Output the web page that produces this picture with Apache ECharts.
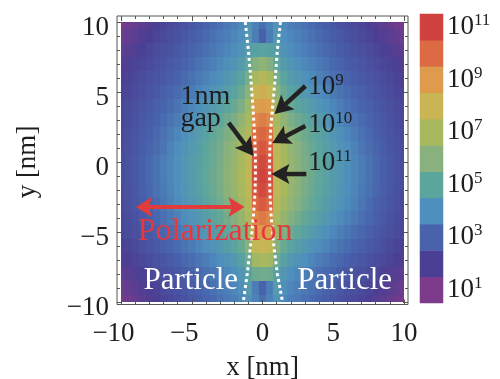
<!DOCTYPE html>
<html><head><meta charset="utf-8">
<script src="https://cdn.jsdelivr.net/npm/echarts@6/dist/echarts.min.js"></script>
<style>html,body{margin:0;padding:0;background:#fff}#c{width:500px;height:379px}</style>
</head><body><div id="c"></div>
<script>
// ---- data (log10 of field enhancement) ----
const xCenters = [-10,-9.5,-9,-8.5,-8,-7.5,-7,-6.5,-6,-5.5,-5,-4.5,-4,-3.5,-3,-2.5,-2,-1.5,-1,-0.5,0,0.5,1,1.5,2,2.5,3,3.5,4,4.5,5,5.5,6,6.5,7,7.5,8,8.5,9,9.5,10];
const yCenters = [10,9,8,7,6,5,4,3,2,1,0,-1,-2,-3,-4,-5,-6,-7,-8,-9,-10];
const logField = [
[1.1,1.3,1.5,1.68,1.85,2.0,2.15,2.28,2.4,2.55,2.7,2.85,3.0,3.18,3.35,3.5,3.65,3.85,4.2,3.7,3.3,3.7,4.2,3.85,3.65,3.5,3.35,3.18,3.0,2.85,2.7,2.55,2.4,2.28,2.15,2.0,1.85,1.68,1.5,1.3,1.1],
[1.35,1.53,1.7,1.85,2.0,2.15,2.3,2.43,2.55,2.7,2.85,3.0,3.15,3.33,3.5,3.65,3.8,4.0,4.4,3.6,2.9,3.6,4.4,4.0,3.8,3.65,3.5,3.33,3.15,3.0,2.85,2.7,2.55,2.43,2.3,2.15,2.0,1.85,1.7,1.53,1.35],
[1.6,1.75,1.9,2.05,2.2,2.33,2.45,2.58,2.7,2.85,3.0,3.15,3.3,3.48,3.65,3.8,3.95,4.2,4.6,4.8,4.9,4.8,4.6,4.2,3.95,3.8,3.65,3.48,3.3,3.15,3.0,2.85,2.7,2.58,2.45,2.33,2.2,2.05,1.9,1.75,1.6],
[1.8,1.95,2.1,2.23,2.35,2.48,2.6,2.73,2.85,3.0,3.15,3.33,3.5,3.68,3.85,4.05,4.25,4.55,5.1,5.9,6.3,5.9,5.1,4.55,4.25,4.05,3.85,3.68,3.5,3.33,3.15,3.0,2.85,2.73,2.6,2.48,2.35,2.23,2.1,1.95,1.8],
[1.95,2.1,2.25,2.38,2.5,2.63,2.75,2.88,3.0,3.18,3.35,3.53,3.7,3.9,4.1,4.33,4.55,4.9,5.6,7.0,7.4,7.0,5.6,4.9,4.55,4.33,4.1,3.9,3.7,3.53,3.35,3.18,3.0,2.88,2.75,2.63,2.5,2.38,2.25,2.1,1.95],
[2.1,2.23,2.35,2.48,2.6,2.75,2.9,3.05,3.2,3.38,3.55,3.75,3.95,4.18,4.4,4.65,4.9,5.3,6.1,7.9,8.3,7.9,6.1,5.3,4.9,4.65,4.4,4.18,3.95,3.75,3.55,3.38,3.2,3.05,2.9,2.75,2.6,2.48,2.35,2.23,2.1],
[2.2,2.33,2.45,2.6,2.75,2.9,3.05,3.23,3.4,3.6,3.8,4.03,4.25,4.5,4.75,5.03,5.3,5.75,6.6,8.8,9.0,8.8,6.6,5.75,5.3,5.03,4.75,4.5,4.25,4.03,3.8,3.6,3.4,3.23,3.05,2.9,2.75,2.6,2.45,2.33,2.2],
[2.25,2.4,2.55,2.7,2.85,3.03,3.2,3.4,3.6,3.83,4.05,4.3,4.55,4.83,5.1,5.43,5.75,6.25,7.0,9.4,9.6,9.4,7.0,6.25,5.75,5.43,5.1,4.83,4.55,4.3,4.05,3.83,3.6,3.4,3.2,3.03,2.85,2.7,2.55,2.4,2.25],
[2.3,2.45,2.6,2.78,2.95,3.15,3.35,3.58,3.8,4.05,4.3,4.58,4.85,5.13,5.4,5.75,6.1,6.65,7.3,9.9,10.1,9.9,7.3,6.65,6.1,5.75,5.4,5.13,4.85,4.58,4.3,4.05,3.8,3.58,3.35,3.15,2.95,2.78,2.6,2.45,2.3],
[2.35,2.5,2.65,2.85,3.05,3.25,3.45,3.7,3.95,4.2,4.45,4.73,5.0,5.3,5.6,5.98,6.35,6.9,7.5,10.2,10.5,10.2,7.5,6.9,6.35,5.98,5.6,5.3,5.0,4.73,4.45,4.2,3.95,3.7,3.45,3.25,3.05,2.85,2.65,2.5,2.35],
[2.4,2.58,2.75,2.95,3.15,3.38,3.6,3.83,4.05,4.3,4.55,4.8,5.05,5.35,5.65,6.05,6.45,7.0,7.6,10.5,10.8,10.5,7.6,7.0,6.45,6.05,5.65,5.35,5.05,4.8,4.55,4.3,4.05,3.83,3.6,3.38,3.15,2.95,2.75,2.58,2.4],
[2.4,2.58,2.75,2.95,3.15,3.38,3.6,3.83,4.05,4.3,4.55,4.83,5.1,5.4,5.7,6.1,6.5,7.1,7.7,10.7,11.0,10.7,7.7,7.1,6.5,6.1,5.7,5.4,5.1,4.83,4.55,4.3,4.05,3.83,3.6,3.38,3.15,2.95,2.75,2.58,2.4],
[2.35,2.53,2.7,2.9,3.1,3.33,3.55,3.78,4.0,4.25,4.5,4.78,5.05,5.35,5.65,6.05,6.45,7.0,7.6,10.5,10.8,10.5,7.6,7.0,6.45,6.05,5.65,5.35,5.05,4.78,4.5,4.25,4.0,3.78,3.55,3.33,3.1,2.9,2.7,2.53,2.35],
[2.3,2.48,2.65,2.83,3.0,3.23,3.45,3.68,3.9,4.13,4.35,4.63,4.9,5.2,5.5,5.88,6.25,6.8,7.4,10.1,10.4,10.1,7.4,6.8,6.25,5.88,5.5,5.2,4.9,4.63,4.35,4.13,3.9,3.68,3.45,3.23,3.0,2.83,2.65,2.48,2.3],
[2.25,2.4,2.55,2.73,2.9,3.1,3.3,3.5,3.7,3.93,4.15,4.4,4.65,4.93,5.2,5.55,5.9,6.4,7.1,9.4,9.7,9.4,7.1,6.4,5.9,5.55,5.2,4.93,4.65,4.4,4.15,3.93,3.7,3.5,3.3,3.1,2.9,2.73,2.55,2.4,2.25],
[2.2,2.33,2.45,2.6,2.75,2.93,3.1,3.28,3.45,3.65,3.85,4.08,4.3,4.55,4.8,5.1,5.4,5.85,6.6,8.7,9.0,8.7,6.6,5.85,5.4,5.1,4.8,4.55,4.3,4.08,3.85,3.65,3.45,3.28,3.1,2.93,2.75,2.6,2.45,2.33,2.2],
[2.05,2.18,2.3,2.45,2.6,2.75,2.9,3.05,3.2,3.38,3.55,3.75,3.95,4.18,4.4,4.65,4.9,5.3,6.0,7.8,8.0,7.8,6.0,5.3,4.9,4.65,4.4,4.18,3.95,3.75,3.55,3.38,3.2,3.05,2.9,2.75,2.6,2.45,2.3,2.18,2.05],
[1.85,2.0,2.15,2.28,2.4,2.53,2.65,2.8,2.95,3.1,3.25,3.43,3.6,3.8,4.0,4.2,4.4,4.75,5.4,6.8,7.0,6.8,5.4,4.75,4.4,4.2,4.0,3.8,3.6,3.43,3.25,3.1,2.95,2.8,2.65,2.53,2.4,2.28,2.15,2.0,1.85],
[1.6,1.75,1.9,2.05,2.2,2.33,2.45,2.58,2.7,2.85,3.0,3.15,3.3,3.48,3.65,3.83,4.0,4.3,4.8,5.4,5.5,5.4,4.8,4.3,4.0,3.83,3.65,3.48,3.3,3.15,3.0,2.85,2.7,2.58,2.45,2.33,2.2,2.05,1.9,1.75,1.6],
[1.35,1.53,1.7,1.85,2.0,2.15,2.3,2.43,2.55,2.7,2.85,3.0,3.15,3.33,3.5,3.65,3.8,4.05,4.5,3.6,3.0,3.6,4.5,4.05,3.8,3.65,3.5,3.33,3.15,3.0,2.85,2.7,2.55,2.43,2.3,2.15,2.0,1.85,1.7,1.53,1.35],
[1.1,1.3,1.5,1.68,1.85,2.0,2.15,2.28,2.4,2.55,2.7,2.85,3.0,3.18,3.35,3.5,3.65,3.85,4.2,3.7,3.3,3.7,4.2,3.85,3.65,3.5,3.35,3.18,3.0,2.85,2.7,2.55,2.4,2.28,2.15,2.0,1.85,1.68,1.5,1.3,1.1]
];
const barLevels = ['1','2','3','4','5','6','7','8','9','10','11'];
const barColors = ['#7d3b8b','#4b3f93','#4862ac','#4e8fbd','#5ba59d','#89b17d','#a8b95d','#c9b553','#de9b4d','#dc6a43','#d0413f'];
const gapY      = [10, 8, 6, 4, 3, 2, 1, 0, -1, -2, -3, -4, -6, -8, -10];
const gapLeftX  = [-1.22,-1.0,-0.83,-0.68,-0.62,-0.56,-0.52,-0.5,-0.5,-0.52,-0.58,-0.65,-0.85,-1.08,-1.36];
const gapRightX = [1.27,1.05,0.9,0.72,0.63,0.56,0.52,0.5,0.5,0.52,0.56,0.62,0.8,1.05,1.42];
const axisTicks = {min: -10, max: 10, interval: 5};
const levelArrows = [ // exponent, text anchor, arrow start, arrow tip (data coords)
  {exp:'9',  tx:3.24, ty:5.36,  ax:3.03, ay:5.43,  bx:0.85, by:3.43},
  {exp:'10', tx:3.24, ty:2.64,  ax:3.03, ay:2.57,  bx:0.70, by:1.36},
  {exp:'11', tx:3.24, ty:-0.07, ax:3.10, ay:-0.86, bx:0.63, by:-0.86}
];
const gapLabel = {l1:'1nm', l2:'gap', x:-5.8, y1:4.64, y2:3.07, ax:-2.39, ay:2.79, bx:-0.63, by:0.43};
const polar = {text:'Polarization', tx:-3.35, ty:-5.0, ax:-8.94, bx:-1.27, y:-3.21};
const particles = [{text:'Particle', x:-5.07, y:-8.5}, {text:'Particle', x:5.81, y:-8.5}];

const FF = 'Liberation Serif';
const TC = '#1e1e1e';

const xEdges = [xCenters[0]];
for (let i = 0; i < xCenters.length - 1; i++) xEdges.push((xCenters[i] + xCenters[i+1]) / 2);
xEdges.push(xCenters[xCenters.length-1]);
const yEdges = [yCenters[0]];
for (let i = 0; i < yCenters.length - 1; i++) yEdges.push((yCenters[i] + yCenters[i+1]) / 2);
yEdges.push(yCenters[yCenters.length-1]);

const fieldData = [];
logField.forEach((row, r) => row.forEach((v, c) => fieldData.push([xCenters[c], yCenters[r], v])));

const chart = echarts.init(document.getElementById('c'), null, {renderer: 'canvas'});

const numFmtX = v => v < 0 ? '{n|\u2212' + (-v) + '}' : '{p|' + v + '}';
const numFmtY = v => '{p|' + (v < 0 ? '\u2212' + (-v) : v) + '}';
const baseTxt = {fontSize: 27, fontFamily: FF, color: TC};

function mkAxis(extra) {
  return Object.assign({
    type: 'value', min: axisTicks.min, max: axisTicks.max, interval: axisTicks.interval,
    gridIndex: 0, z: 10,
    axisLine: {show: false, onZero: false},
    axisTick: {show: true, inside: true, length: 5, lineStyle: {color: '#555', width: 1}},
    minorTick: {show: true, splitNumber: 5, length: 3, lineStyle: {color: '#555', width: 1}},
    splitLine: {show: false}, minorSplitLine: {show: false},
    axisLabel: {show: false}
  }, extra);
}

const option = {
  animation: false,
  backgroundColor: '#fff',
  grid: [
    {left: 121, top: 22, width: 283, height: 280, containLabel: false, outerBoundsMode: 'none'},
    {left: 420, top: 14, width: 23, height: 289, containLabel: false, outerBoundsMode: 'none'}
  ],
  xAxis: [
    mkAxis({position: 'bottom', offset: 2.5,
      axisLabel: {show: true, margin: 16, formatter: numFmtX, lineHeight: 27,
        rich: {n: Object.assign({padding: [0, 15, 0, 0], lineHeight: 27}, baseTxt),
               p: Object.assign({lineHeight: 27}, baseTxt)}},
      name: 'x [nm]', nameLocation: 'middle', nameGap: 53,
      nameTextStyle: {fontSize: 27, fontFamily: FF, color: TC, lineHeight: 20}}),
    mkAxis({position: 'top', offset: 6}),
    {type: 'category', gridIndex: 1, data: ['c'], show: false}
  ],
  yAxis: [
    mkAxis({position: 'left', offset: 4,
      axisLabel: {show: true, margin: 8, formatter: numFmtY, verticalAlign: 'top', lineHeight: 12,
        rich: {p: Object.assign({lineHeight: 12}, baseTxt)}},
      name: 'y [nm]', nameLocation: 'middle', nameGap: 76,
      nameTextStyle: {fontSize: 27, fontFamily: FF, color: TC}}),
    mkAxis({position: 'right', offset: 4}),
    {type: 'category', gridIndex: 1, data: barLevels, position: 'right',
      axisLine: {show: false}, axisTick: {show: false}, splitLine: {show: false},
      axisLabel: {show: true, margin: 4, interval: (i) => i % 2 === 0,
        formatter: v => '{b|10}{s|' + v + '}',
        rich: {b: {fontSize: 27, fontFamily: FF, color: TC, lineHeight: 30},
               s: {fontSize: 17, fontFamily: FF, color: TC, lineHeight: 22, verticalAlign: 'top'}}}}
  ],
  visualMap: {type: 'continuous', show: false, min: 1, max: 11, dimension: 2,
    seriesIndex: [0, 3], inRange: {color: barColors}},
  series: [
    {type: 'custom', xAxisIndex: 0, yAxisIndex: 0, data: fieldData, clip: true, z: 1,
      encode: {x: 0, y: 1},
      renderItem: function (params, api) {
        const c = xCenters.indexOf(api.value(0));
        const r = yCenters.indexOf(api.value(1));
        const p0 = api.coord([xEdges[c], yEdges[r]]);
        const p1 = api.coord([xEdges[c+1], yEdges[r+1]]);
        return {type: 'rect',
          shape: {x: Math.min(p0[0], p1[0]), y: Math.min(p0[1], p1[1]),
                  width: Math.abs(p1[0]-p0[0]) + 0.7, height: Math.abs(p1[1]-p0[1]) + 0.7},
          style: {fill: api.visual('color')}};
      }},
    {type: 'line', xAxisIndex: 0, yAxisIndex: 0, data: gapY.map((y, i) => [gapLeftX[i], y]),
      showSymbol: false, symbol: 'none', z: 3, silent: true,
      lineStyle: {color: '#fff', width: 3, type: [3, 3], cap: 'butt'}},
    {type: 'line', xAxisIndex: 0, yAxisIndex: 0, data: gapY.map((y, i) => [gapRightX[i], y]),
      showSymbol: false, symbol: 'none', z: 3, silent: true,
      lineStyle: {color: '#fff', width: 3, type: [3, 3], cap: 'butt'}},
    {type: 'heatmap', xAxisIndex: 2, yAxisIndex: 2,
      data: barLevels.map((v, i) => [0, i, +v]), itemStyle: {borderWidth: 0}}
  ]
};
chart.setOption(option);

// ---- annotations placed through the axes' own scales ----
function P(x, y) { return chart.convertToPixel({xAxisIndex: 0, yAxisIndex: 0}, [x, y]); }
function arrow(a, b, color, lw, hl, hw, both) {
  const dx = b[0]-a[0], dy = b[1]-a[1], L = Math.hypot(dx, dy);
  const ux = dx/L, uy = dy/L, nx = -uy, ny = ux;
  const els = [];
  const head = (t, sx, sy) => ({type: 'polygon', z: 20, silent: true,
    shape: {points: [[t[0], t[1]], [t[0]-sx*hl+nx*hw, t[1]-sy*hl+ny*hw],
                     [t[0]-sx*hl*0.8, t[1]-sy*hl*0.8], [t[0]-sx*hl-nx*hw, t[1]-sy*hl-ny*hw]]},
    style: {fill: color}});
  const s = both ? [a[0]+ux*hl*0.8, a[1]+uy*hl*0.8] : a;
  const e = [b[0]-ux*hl*0.8, b[1]-uy*hl*0.8];
  els.push({type: 'line', z: 20, silent: true, shape: {x1: s[0], y1: s[1], x2: e[0], y2: e[1]},
    style: {stroke: color, lineWidth: lw}});
  els.push(head(b, ux, uy));
  if (both) els.push(head(a, -ux, -uy));
  return els;
}
function txt(p, text, size, color, align, rich) {
  const st = {text: text, fill: color, font: size + 'px "' + FF + '"', align: align, verticalAlign: 'middle'};
  if (rich) st.rich = rich;
  return {type: 'text', x: p[0], y: p[1], z: 21, silent: true, style: st};
}

const g = [];
const tl = P(-10, 10), br = P(10, -10);
g.push({type: 'rect', z: 19, silent: true,
  shape: {x: tl[0]-4, y: tl[1]-6, width: br[0]-tl[0]+8, height: br[1]-tl[1]+8.5},
  style: {fill: 'none', stroke: '#555', lineWidth: 1}});
const supRich = {b: {fontSize: 27, fontFamily: FF, fill: TC, lineHeight: 30},
                 s: {fontSize: 17, fontFamily: FF, fill: TC, lineHeight: 22, verticalAlign: 'top'}};
levelArrows.forEach(o => {
  g.push(...arrow(P(o.ax, o.ay), P(o.bx, o.by), '#222', 4.5, 18, 10, false));
  g.push(txt(P(o.tx, o.ty), '{b|10}{s|' + o.exp + '}', 27, TC, 'left', supRich));
});
g.push(txt(P(gapLabel.x, gapLabel.y1), gapLabel.l1, 28, TC, 'left'));
g.push(txt(P(gapLabel.x, gapLabel.y2), gapLabel.l2, 28, TC, 'left'));
g.push(...arrow(P(gapLabel.ax, gapLabel.ay), P(gapLabel.bx, gapLabel.by), '#222', 4.5, 18, 10, false));
g.push(...arrow(P(polar.ax, polar.y), P(polar.bx, polar.y), '#e23b3b', 4, 16, 10, true));
g.push(txt(P(polar.tx, polar.ty), polar.text, 32, '#e8383d', 'center'));
particles.forEach(o => g.push(txt(P(o.x, o.y), o.text, 31, '#ffffff', 'center')));
chart.setOption({graphic: g});
</script>
</body></html>
